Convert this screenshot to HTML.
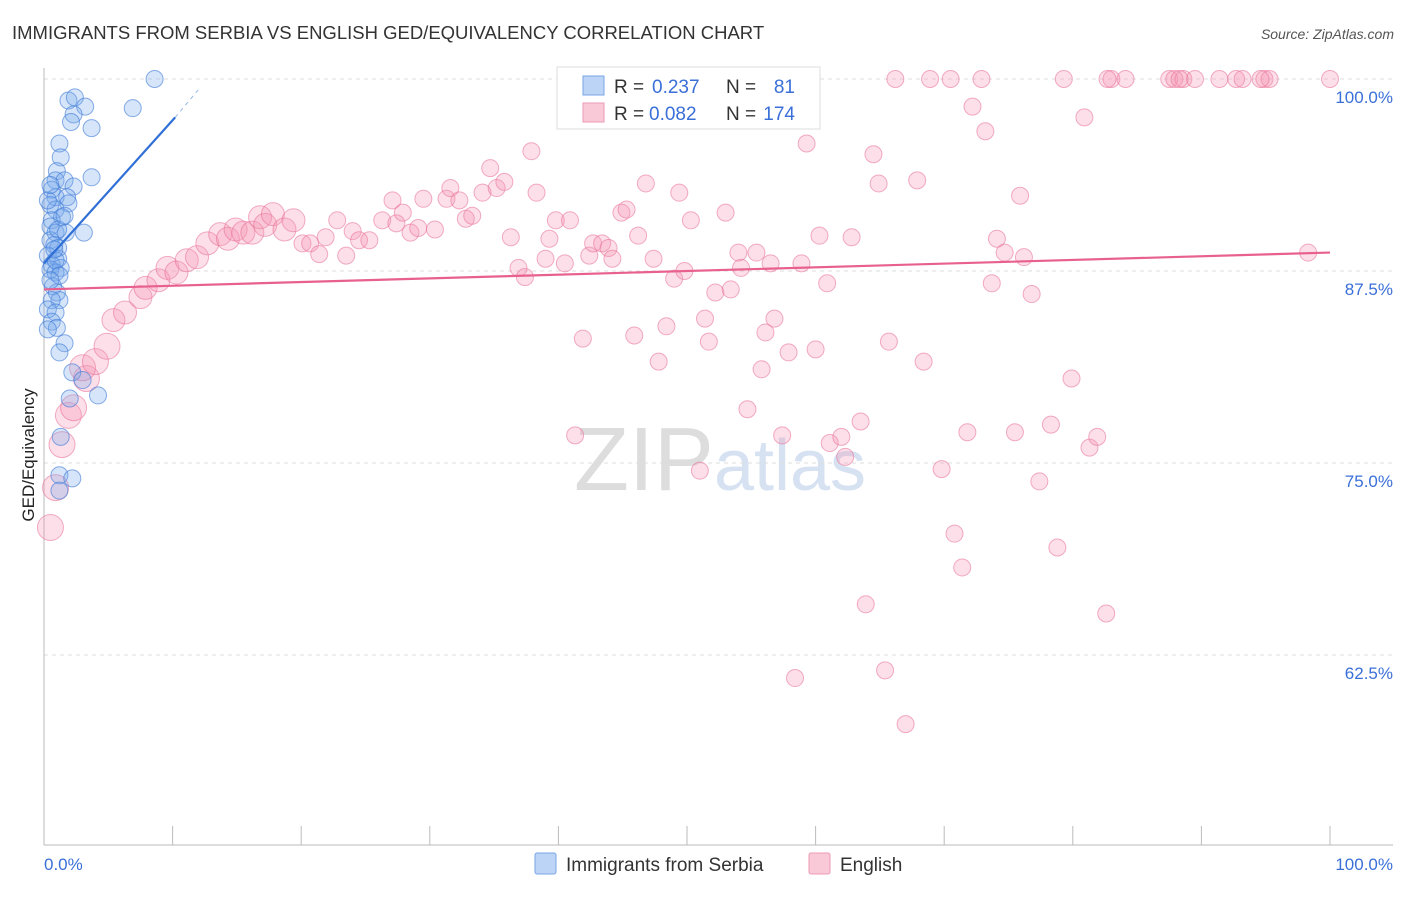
<!DOCTYPE html>
<html><head><meta charset="utf-8"><style>
body{margin:0;background:#fff;font-family:"Liberation Sans",sans-serif;}
svg text{font-family:"Liberation Sans",sans-serif;}
</style></head><body>
<svg id="c" width="1406" height="892">
<text x="12" y="39" font-size="18.5" fill="#333">IMMIGRANTS FROM SERBIA VS ENGLISH GED/EQUIVALENCY CORRELATION CHART</text>
<text x="1394" y="39" font-size="14" fill="#555" font-style="italic" text-anchor="end">Source: ZipAtlas.com</text>
<text x="720" y="490" font-size="90" fill="#ddd" text-anchor="middle" font-family="Liberation Serif">ZIP<tspan fill="#d6e2f2" font-family="Liberation Sans" font-size="72">atlas</tspan></text>
<g id="grid"></g>
<g id="axes"></g>
<g id="pts"></g>
<g id="lines"></g>
<text transform="translate(34,455) rotate(-90)" font-size="17" fill="#222" text-anchor="middle">GED/Equivalency</text>
<g>
<rect x="557" y="67" width="263" height="62" fill="#fff" stroke="#ddd"/>
<rect x="583" y="76" width="21" height="19" fill="#bcd4f5" stroke="#7aa6e6"/>
<rect x="583" y="103" width="21" height="19" fill="#f9c9d7" stroke="#ef9ab4"/>
<text x="614" y="93" font-size="19" fill="#333">R =</text>
<text x="652" y="93" font-size="19" fill="#3a6fd8">0.237</text>
<text x="726" y="93" font-size="19" fill="#333">N =</text>
<text x="795" y="93" font-size="19" fill="#3a6fd8" text-anchor="end">81</text>
<text x="614" y="120" font-size="19" fill="#333">R =</text>
<text x="649" y="120" font-size="19" fill="#3a6fd8">0.082</text>
<text x="726" y="120" font-size="19" fill="#333">N =</text>
<text x="795" y="120" font-size="19" fill="#3a6fd8" text-anchor="end">174</text>
</g>
<g>
<rect x="535" y="853" width="21" height="21" fill="#bcd4f5" stroke="#7aa6e6" rx="2"/>
<text x="566" y="871" font-size="19" fill="#333">Immigrants from Serbia</text>
<rect x="809" y="853" width="21" height="21" fill="#f9c9d7" stroke="#ef9ab4" rx="2"/>
<text x="840" y="871" font-size="19" fill="#333">English</text>
</g>
</svg>
<script>
const yTicks=[100,87.5,75,62.5];
const yTickLabels=["100.0%","87.5%","75.0%","62.5%"];
const xTickLabels=["0.0%","100.0%"];
const blueX=[8.6,1.9,2.4,3.2,2.3,2.1,3.7,6.9,1.2,1.3,1.0,0.9,1.6,2.3,3.7,0.6,0.9,1.8,1.9,0.5,0.9,1.4,0.6,0.5,0.9,1.7,3.1,0.5,0.8,1.1,0.3,1.1,0.6,1.3,0.5,0.9,0.7,1.0,1.2,0.6,0.3,0.9,0.6,1.0,1.6,1.2,2.2,3.0,4.2,2.0,1.3,1.2,2.2,1.2,0.3,0.9,1.2,0.5,1.1,0.3,1.6,0.5,0.8];
const blueY=[100,98.6,98.8,98.2,97.7,97.2,96.8,98.1,95.8,94.9,94.0,93.4,93.4,93.0,93.6,92.8,92.3,92.3,91.9,91.8,91.5,91.0,90.8,90.4,90.0,90.0,90.0,89.5,89.2,89.0,88.5,88.3,87.9,87.7,87.6,87.4,86.5,86.1,85.6,85.6,85.0,84.8,84.2,83.8,82.8,82.2,80.9,80.4,79.4,79.2,76.7,74.2,74.0,73.2,83.7,88.2,87.2,86.9,90.2,92.1,91.1,93.1,88.9];
const pinkX=[0.5,0.9,1.4,1.9,2.3,3.3,3.0,4.0,4.9,5.4,6.3,7.5,7.9,8.9,9.6,10.3,11.1,11.9,12.7,13.7,14.3,14.9,15.5,16.2,16.8,17.2,17.8,18.7,19.4,20.1,20.7,21.4,21.9,22.8,23.5,24.0,24.5,25.3,26.3,27.1,27.4,27.9,28.5,29.1,29.5,30.4,31.3,31.6,32.3,32.8,33.3,34.1,34.7,35.2,35.8,36.3,36.9,37.4,37.9,38.3,39.0,39.3,39.8,40.5,40.9,41.3,41.9,42.4,42.7,43.4,43.9,44.2,44.9,45.3,45.9,46.2,46.8,47.4,47.8,48.4,49.0,49.4,49.8,50.3,51.0,51.4,51.7,52.2,53.0,53.4,54.0,54.2,54.7,55.4,55.8,56.1,56.5,56.8,57.4,57.9,58.4,58.9,59.3,60.0,60.3,60.9,61.1,62.0,62.3,62.8,63.5,63.9,64.5,64.9,65.4,65.7,66.2,67.0,67.9,68.4,68.9,69.8,70.5,70.8,71.4,71.8,72.2,72.9,73.2,73.7,74.1,74.7,75.5,75.9,76.2,76.8,77.4,78.3,78.8,79.3,79.9,80.9,81.3,81.9,82.6,83.0,84.1,87.5,87.9,88.6,89.5,91.4,92.7,93.2,94.9,95.3,98.3,100,82.7,88.3,94.6];
const pinkY=[70.8,73.4,76.2,78.1,78.6,80.5,81.2,81.6,82.6,84.3,84.8,85.8,86.4,86.9,87.7,87.4,88.2,88.4,89.3,89.9,89.6,90.2,90.0,90.0,91.0,90.5,91.2,90.2,90.8,89.3,89.3,88.6,89.7,90.8,88.5,90.1,89.5,89.5,90.8,92.1,90.6,91.3,90.0,90.3,92.2,90.2,92.2,92.9,92.1,90.9,91.1,92.6,94.2,92.9,93.3,89.7,87.7,87.1,95.3,92.6,88.3,89.6,90.8,88.0,90.8,76.8,83.1,88.5,89.3,89.3,89.0,88.3,91.3,91.5,83.3,89.8,93.2,88.3,81.6,83.9,87.0,92.6,87.5,90.8,74.5,84.4,82.9,86.1,91.3,86.3,88.7,87.7,78.5,88.7,81.1,83.5,88.0,84.4,76.8,82.2,61.0,88.0,95.8,82.4,89.8,86.7,76.3,76.7,75.4,89.7,77.7,65.8,95.1,93.2,61.5,82.9,100,58.0,93.4,81.6,100,74.6,100,70.4,68.2,77.0,98.2,100,96.6,86.7,89.6,88.7,77.0,92.4,88.4,86.0,73.8,77.5,69.5,100,80.5,97.5,76.0,76.7,65.2,100,100,100,100,100,100,100,100,100,100,100,88.7,100,100,100,100];
const blueTrend=[[0,88.0],[10.2,97.5]];
const blueTrendExt=[[10.2,97.5],[12.2,99.5]];
const pinkTrend=[[0,86.3],[100,88.7]];

const X=v=>44+v*12.86;
const Y=v=>79+(100-v)*192/12.5;
const NS="http://www.w3.org/2000/svg";
function mk(tag,attrs,parent){const e=document.createElementNS(NS,tag);for(const k in attrs)e.setAttribute(k,attrs[k]);document.getElementById(parent).appendChild(e);return e;}
yTicks.forEach((t,i)=>{
  const l=mk('line',{x1:44,x2:1393,y1:Y(t),y2:Y(t),stroke:'#ddd','stroke-dasharray':'4,4'},'grid');
  
  
  const tx=mk('text',{x:1393,y:Y(t)+24,'font-size':17,fill:'#3a6fd8','text-anchor':'end'},'axes');
  tx.textContent=yTickLabels[i];
  
  
});
const ax=mk('line',{x1:44,x2:44,y1:68,y2:845,stroke:'#bbb'},'axes');


const bx=mk('line',{x1:44,x2:1393,y1:845,y2:845,stroke:'#bbb'},'axes');


for(let i=0;i<=10;i++){
  const t=mk('line',{x1:X(i*10),x2:X(i*10),y1:826,y2:845,stroke:'#bbb'},'axes');
  
  
}
const xl0=mk('text',{x:44,y:870,'font-size':17,fill:'#3a6fd8'},'axes');
xl0.textContent=xTickLabels[0];


const xl1=mk('text',{x:1393,y:870,'font-size':17,fill:'#3a6fd8','text-anchor':'end'},'axes');
xl1.textContent=xTickLabels[1];


pinkX.forEach((x,i)=>{
  const r=x<5?13:(x<20?11.5:8.5);
  const c=mk('circle',{cx:X(x),cy:Y(pinkY[i]),r:r,fill:'rgba(244,150,180,0.3)',stroke:'rgba(232,110,150,0.55)','stroke-width':1},'pts');
  
  
});
blueX.forEach((x,i)=>{
  const c=mk('circle',{cx:X(x),cy:Y(blueY[i]),r:8.5,fill:'rgba(120,170,235,0.3)',stroke:'rgba(60,120,215,0.6)','stroke-width':1},'pts');
  
  
});
const bl=mk('line',{x1:X(blueTrend[0][0]),y1:Y(blueTrend[0][1]),x2:X(blueTrend[1][0]),y2:Y(blueTrend[1][1]),stroke:'#2f6fd6','stroke-width':2.2},'lines');


const be=mk('line',{x1:X(blueTrendExt[0][0]),y1:Y(blueTrendExt[0][1]),x2:X(blueTrendExt[1][0]),y2:Y(blueTrendExt[1][1]),stroke:'#9bb8e6','stroke-width':1,'stroke-dasharray':'4,4'},'lines');


const pl=mk('line',{x1:X(pinkTrend[0][0]),y1:Y(pinkTrend[0][1]),x2:X(pinkTrend[1][0]),y2:Y(pinkTrend[1][1]),stroke:'#e8608e','stroke-width':2.2},'lines');


</script>
</body></html>
